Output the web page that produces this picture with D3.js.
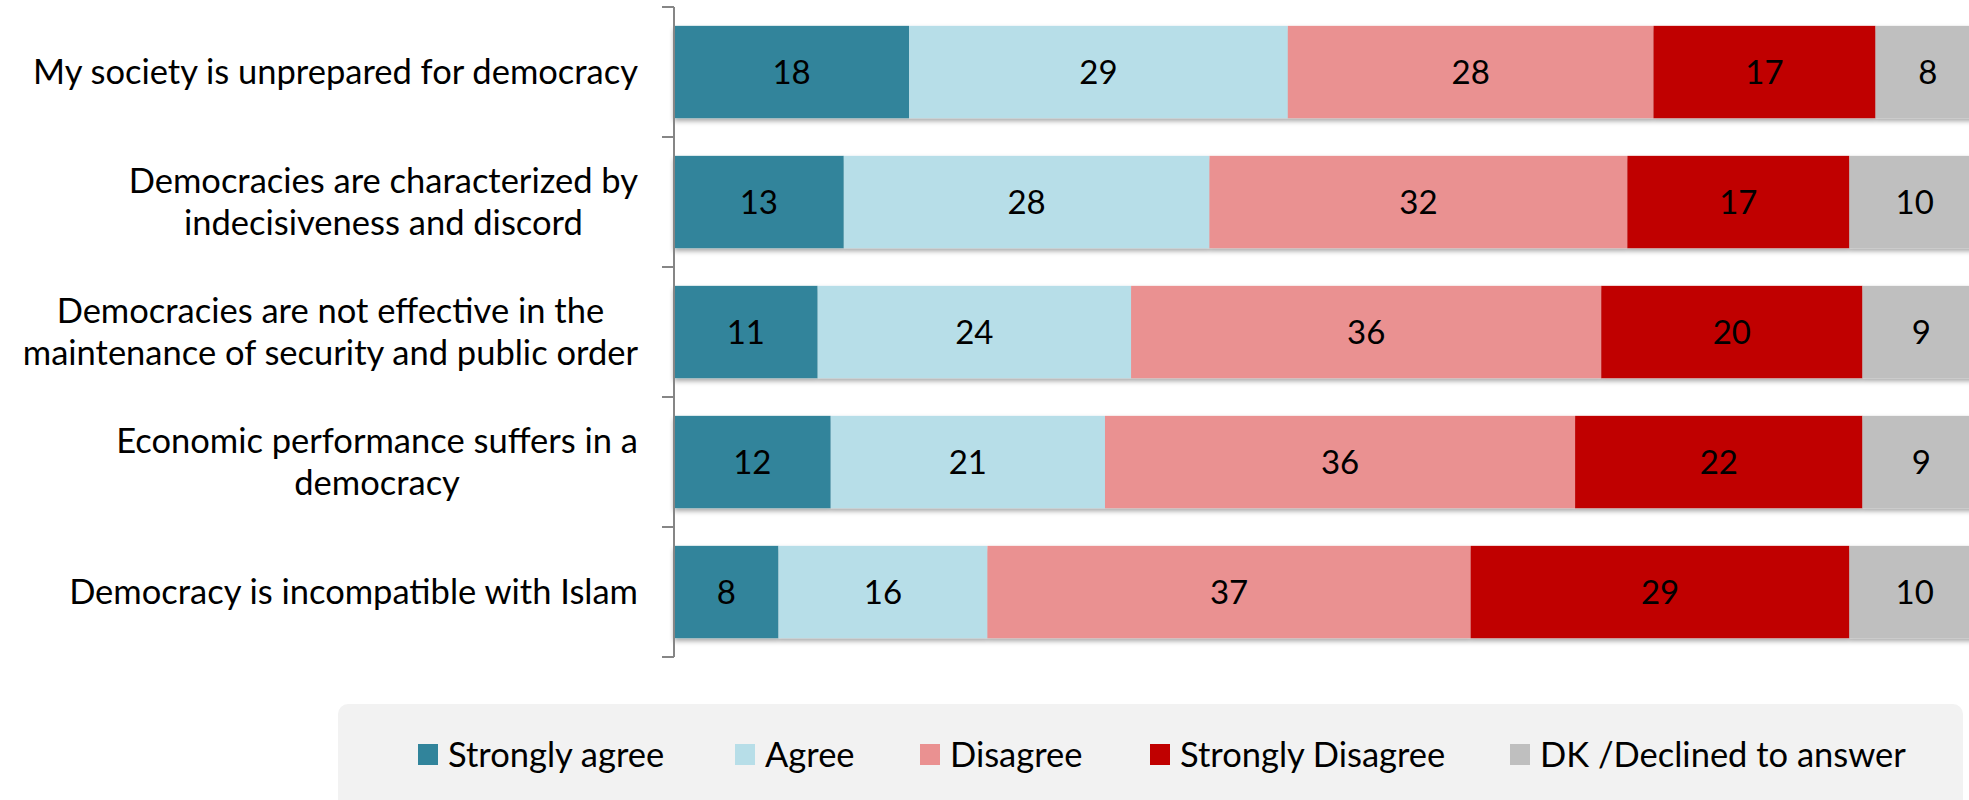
<!DOCTYPE html>
<html>
<head>
<meta charset="utf-8">
<script src="https://cdn.jsdelivr.net/npm/d3@7"></script>
<style>
  html, body { margin: 0; padding: 0; background: #ffffff; }
  svg { display: block; }
  text { font-family: Lato, "Noto Sans", sans-serif; fill: #000; }
</style>
</head>
<body>
<svg id="chart" width="1969" height="800"></svg>
<script>
// ---- data ----
const categories = [
  "My society is unprepared for democracy",
  "Democracies are characterized by\nindecisiveness and discord",
  "Democracies are not effective in the\nmaintenance of security and public order",
  "Economic performance suffers in a\ndemocracy",
  "Democracy is incompatible with Islam"
];
const seriesNames = ["Strongly agree", "Agree", "Disagree", "Strongly Disagree", "DK /Declined to answer"];
const stronglyAgree    = [18, 13, 11, 12, 8];
const agree            = [29, 28, 24, 21, 16];
const disagree         = [28, 32, 36, 36, 37];
const stronglyDisagree = [17, 17, 20, 22, 29];
const dkDeclined       = [8, 10, 9, 9, 10];
const seriesColors = ["#31849B", "#B7DEE8", "#EA9191", "#C00000", "#BFBFBF"];

// ---- build table ----
const seriesValues = [stronglyAgree, agree, disagree, stronglyDisagree, dkDeclined];
const keys = seriesNames;
const table = categories.map((c, i) => {
  const row = { category: c };
  keys.forEach((k, j) => row[k] = seriesValues[j][i]);
  return row;
});
const stacked = d3.stack().keys(keys)(table);

const svg = d3.select("#chart");
const W = 1969, H = 800;

// shadow filter
const defs = svg.append("defs");
const f = defs.append("filter").attr("id", "shadow").attr("x", "-5%").attr("y", "-10%").attr("width", "110%").attr("height", "130%");
f.append("feGaussianBlur").attr("in", "SourceAlpha").attr("stdDeviation", 2.5);
f.append("feOffset").attr("dx", 0).attr("dy", 3).attr("result", "ob");
f.append("feComponentTransfer").append("feFuncA").attr("type", "linear").attr("slope", 0.35);
const fm = f.append("feMerge");
fm.append("feMergeNode");
fm.append("feMergeNode").attr("in", "SourceGraphic");

const clip = defs.append("clipPath").attr("id", "plotclip");
clip.append("rect").attr("x", 0).attr("y", 0).attr("width", W).attr("height", H);

const x = d3.scaleLinear().domain([0, 100]).range([674, 1980]);
const y = d3.scaleBand().domain(categories).range([7, 657]).paddingInner(0.29).paddingOuter(0.145);

// bars
const barsG = svg.append("g").attr("clip-path", "url(#plotclip)");
const rowsG = barsG.selectAll("g.row").data(categories).join("g").attr("class", "row").attr("filter", "url(#shadow)");
rowsG.each(function(cat, i) {
  const g = d3.select(this);
  stacked.forEach((s, j) => {
    const d = s[i];
    g.append("rect")
      .attr("x", x(d[0]))
      .attr("y", y(cat))
      .attr("width", x(d[1]) - x(d[0]))
      .attr("height", y.bandwidth())
      .attr("fill", seriesColors[j]);
  });
});

// data labels
stacked.forEach((s, j) => {
  barsG.selectAll(null).data(s).join("text")
    .attr("x", d => (x(d[0]) + x(d[1])) / 2)
    .attr("y", (d, i) => y(categories[i]) + y.bandwidth() / 2)
    .attr("dy", "0.36em")
    .attr("text-anchor", "middle")
    .style("font-size", "33px")
    .text(d => d[1] - d[0]);
});

// axis (band edges as ticks)
const axisG = svg.append("g");
const axisColor = "#868686";
axisG.append("line").attr("x1", x(0)).attr("x2", x(0)).attr("y1", y.range()[0]).attr("y2", y.range()[1])
  .attr("stroke", axisColor).attr("stroke-width", 2);
const edges = [y.range()[0]].concat(categories.map(c => y(c) + y.bandwidth() + y.step() * y.paddingInner() / 2));
edges[edges.length - 1] = y.range()[1];
axisG.selectAll("line.tick").data(edges).join("line").attr("class", "tick")
  .attr("x1", x(0) - 12).attr("x2", x(0)).attr("y1", d => d).attr("y2", d => d)
  .attr("stroke", axisColor).attr("stroke-width", 2);

// category labels
const labelRight = 638;
const labG = svg.append("g");
categories.forEach(cat => {
  const lines = cat.split("\n");
  const t = labG.append("text").attr("text-anchor", "middle").style("font-size", "34.5px");
  const lineH = 42;
  const cy = y(cat) + y.bandwidth() / 2;
  lines.forEach((ln, k) => {
    t.append("tspan").attr("y", cy + (k - (lines.length - 1) / 2) * lineH).attr("dy", "0.36em").text(ln);
  });
  let maxW = 0;
  t.selectAll("tspan").each(function() { maxW = Math.max(maxW, this.getComputedTextLength()); });
  t.selectAll("tspan").attr("x", labelRight - maxW / 2);
});

// legend
const legG = svg.append("g");
legG.append("rect").attr("x", 338).attr("y", 704).attr("width", 1625).attr("height", 120)
  .attr("rx", 10).attr("ry", 10).attr("fill", "#F2F2F2");
const legendX = [418, 735, 920, 1150, 1510];
seriesNames.forEach((n, j) => {
  legG.append("rect").attr("x", legendX[j]).attr("y", 744).attr("width", 20).attr("height", 21).attr("fill", seriesColors[j]);
  legG.append("text").attr("x", legendX[j] + 30).attr("y", 755).attr("dy", "0.36em")
    .style("font-size", "34.5px").text(n);
});
</script>
</body>
</html>
